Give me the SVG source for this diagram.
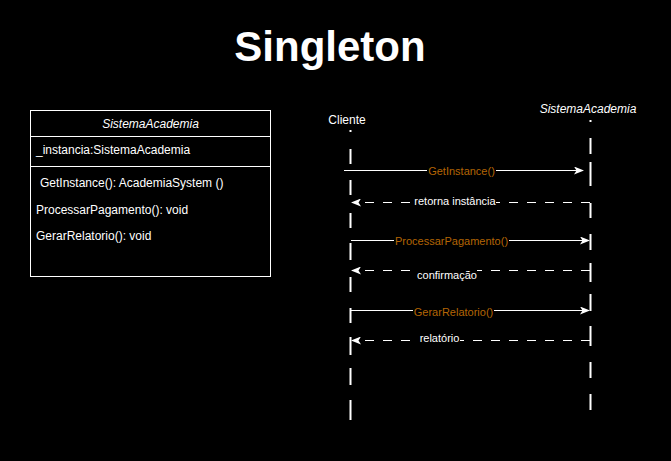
<svg xmlns="http://www.w3.org/2000/svg" width="671" height="461" viewBox="0 0 671 461">
<style>
text{font-family:"Liberation Sans",Arial,sans-serif;fill:#fff}
.cls{font-size:12px}
.it{font-style:italic}
.call{font-size:11px;fill:#B46504}
.ret{font-size:11px;fill:#fff}
.box{fill:none;stroke:#fff;stroke-width:1}
.life{fill:none;stroke:#fff;stroke-width:2}
.msg{fill:none;stroke:#fff;stroke-width:1}
.dash{fill:none;stroke:#fff;stroke-width:1;stroke-dasharray:9 9}
.bg{fill:#000}
</style>
<defs>
<marker id="ah" viewBox="0 0 10 8" refX="9" refY="4" markerWidth="10" markerHeight="8" markerUnits="userSpaceOnUse" orient="auto">
<path d="M0,0 L10,4 L0,8 L2.5,4 z" fill="#fff"/>
</marker>
</defs>
<rect x="0" y="0" width="671" height="461" fill="#000"/>
<text x="330" y="61" text-anchor="middle" font-size="42" font-weight="bold">Singleton</text>

<g id="classSistemaAcademia">
<rect class="box" x="30.5" y="110.5" width="240" height="166"/>
<line class="box" x1="30.5" y1="136.5" x2="270.5" y2="136.5"/>
<line class="box" x1="30.5" y1="166.5" x2="270.5" y2="166.5"/>
<text class="cls it" x="150.5" y="128" text-anchor="middle">SistemaAcademia</text>
<text class="cls" x="36" y="154">_instancia:SistemaAcademia</text>
<text class="cls" x="40" y="187">GetInstance(): AcademiaSystem ()</text>
<text class="cls" x="36" y="214">ProcessarPagamento(): void</text>
<text class="cls" x="36" y="240">GerarRelatorio(): void</text>
</g>

<g id="lifelineCliente">
<text class="cls" x="347" y="124" text-anchor="middle">Cliente</text>
<path class="life" d="M350.5,130V132M350.5,149V164M350.5,180V195M350.5,213V228M350.5,243V260M350.5,277V292M350.5,308V323M350.5,337V355M350.5,368V385M350.5,400V420"/>
</g>

<g id="lifelineSistemaAcademia">
<text class="cls it" x="588" y="113" text-anchor="middle">SistemaAcademia</text>
<path class="life" d="M590.5,120V122M590.5,138V154M590.5,162V186M590.5,203V218M590.5,234V250M590.5,263V282M590.5,294V311M590.5,326V346M590.5,362V378M590.5,394V410"/>
</g>

<g id="connectors">
<line class="msg" x1="344" y1="170.5" x2="583" y2="170.5" marker-end="url(#ah)"/>
<rect class="bg" x="427" y="163" width="69" height="14"/>
<text class="call" x="461.5" y="174.5" text-anchor="middle">GetInstance()</text>

<path class="dash" d="M590,202.5H352" marker-end="url(#ah)"/>
<rect class="bg" x="414" y="195" width="82" height="13"/>
<text class="ret" x="455" y="205" text-anchor="middle" font-size="10">retorna instância</text>

<line class="msg" x1="351" y1="240.5" x2="589" y2="240.5" marker-end="url(#ah)"/>
<rect class="bg" x="394" y="233" width="115" height="14"/>
<text class="call" x="451.5" y="244.5" text-anchor="middle">ProcessarPagamento()</text>

<path class="dash" d="M590,270.5H352" marker-end="url(#ah)"/>
<rect class="bg" x="417" y="268" width="60" height="13"/>
<text class="ret" x="447" y="279" text-anchor="middle">confirmação</text>

<line class="msg" x1="351" y1="310.5" x2="589" y2="310.5" marker-end="url(#ah)"/>
<rect class="bg" x="413" y="304" width="81" height="14"/>
<text class="call" x="453.5" y="316" text-anchor="middle">GerarRelatorio()</text>

<path class="dash" d="M590,340.5H352" marker-end="url(#ah)"/>
<rect class="bg" x="419" y="332" width="41" height="13"/>
<text class="ret" x="439.5" y="342" text-anchor="middle">relatório</text>
</g>
</svg>
